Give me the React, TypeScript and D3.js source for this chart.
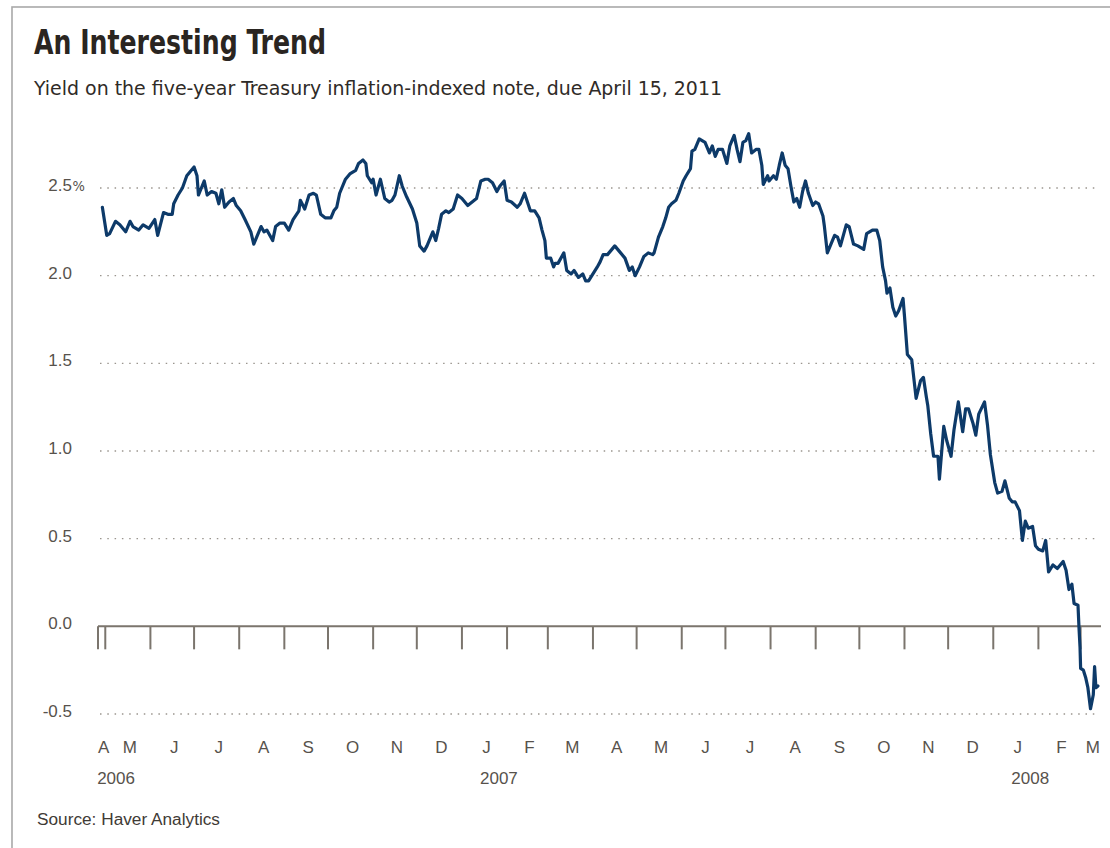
import React from "react";
import * as d3 from "d3";

const title = "An Interesting Trend";
const subtitle = "Yield on the five-year Treasury inflation-indexed note, due April 15, 2011";
const source = "Source: Haver Analytics";

const yTicks = [2.5, 2.0, 1.5, 1.0, 0.5, 0.0, -0.5];
const yTickLabels = ["2.5", "2.0", "1.5", "1.0", "0.5", "0.0", "-0.5"];
const monthLetters = ["J", "F", "M", "A", "M", "J", "J", "A", "S", "O", "N", "D"];

const domainStart = "2006-04-26";
const domainEnd = "2008-03-15";
const baseDate = "2006-05-01";

// days after May 1, 2006
const dayOffsets = [
  -2, 1, 3, 7, 10, 14, 17, 19, 23, 26, 30, 34, 36, 40, 43, 46, 47, 50, 53, 56,
  58, 61, 63, 64, 66, 68, 70, 73, 76, 78, 80, 82, 85, 88, 90, 93, 96, 100, 102, 104,
  107, 109, 111, 113, 115, 117, 120, 123, 126, 129, 133, 134, 137, 140, 143, 145, 148, 151, 155, 157,
  159, 161, 165, 168, 172, 174, 177, 179, 180, 183, 184, 186, 189, 192, 195, 197, 199, 202, 204, 207,
  211, 214, 216, 219, 221, 225, 227, 229, 231, 234, 236, 239, 242, 245, 249, 252, 255, 258, 261, 263,
  266, 269, 271, 274, 276, 279, 283, 285, 288, 290, 292, 295, 298, 300, 302, 303, 306, 308, 309, 311,
  315, 317, 320, 322, 325, 328, 330, 332, 335, 338, 340, 342, 345, 348, 350, 353, 357, 360, 362, 364,
  367, 370, 373, 376, 377, 380, 383, 385, 387, 389, 392, 394, 397, 399, 402, 403, 405, 408, 410, 412,
  415, 417, 419, 421, 424, 427, 429, 432, 434, 436, 438, 440, 442, 444, 447, 449, 451, 452, 455, 456,
  459, 461, 463, 465, 467, 469, 471, 473, 475, 477, 479, 481, 483, 486, 488, 490, 493, 494, 496, 498,
  501, 503, 505, 509, 511, 514, 517, 519, 521, 523, 527, 530, 532, 534, 536, 537, 539, 541, 543, 545,
  548, 549, 551, 554, 557, 560, 562, 564, 565, 567, 569, 572, 573, 576, 578, 581, 583, 586, 589, 591,
  593, 596, 598, 600, 604, 606, 608, 611, 613, 616, 618, 621, 623, 625, 628, 630, 632, 634, 637, 639,
  641, 644, 646, 648, 651, 654, 658, 660, 662, 664, 665.5, 668.2, 668.9, 669.6, 670.0, 671.9, 673.4, 675.0, 676.8, 678.7,
  679.6, 680.5, 681.9,
];

const yields = [
  2.39, 2.23, 2.24, 2.31, 2.29, 2.25, 2.31, 2.28, 2.26, 2.29, 2.27, 2.32, 2.23, 2.36, 2.35, 2.35, 2.41, 2.46, 2.50, 2.57,
  2.59, 2.62, 2.57, 2.46, 2.50, 2.54, 2.46, 2.48, 2.47, 2.41, 2.49, 2.39, 2.42, 2.44, 2.40, 2.37, 2.32, 2.25, 2.18, 2.22,
  2.28, 2.25, 2.26, 2.23, 2.20, 2.28, 2.30, 2.30, 2.26, 2.32, 2.37, 2.43, 2.38, 2.46, 2.47, 2.46, 2.35, 2.33, 2.33, 2.37,
  2.39, 2.47, 2.55, 2.58, 2.60, 2.64, 2.66, 2.64, 2.57, 2.53, 2.55, 2.46, 2.55, 2.44, 2.42, 2.43, 2.46, 2.57, 2.51, 2.45,
  2.38, 2.30, 2.17, 2.14, 2.17, 2.25, 2.20, 2.27, 2.35, 2.37, 2.36, 2.38, 2.46, 2.44, 2.40, 2.42, 2.44, 2.54, 2.55, 2.55,
  2.53, 2.48, 2.51, 2.54, 2.43, 2.42, 2.39, 2.41, 2.47, 2.42, 2.37, 2.37, 2.33, 2.26, 2.20, 2.10, 2.10, 2.05, 2.07, 2.07,
  2.13, 2.03, 2.01, 2.03, 1.99, 2.01, 1.97, 1.97, 2.01, 2.05, 2.08, 2.12, 2.12, 2.15, 2.17, 2.14, 2.10, 2.03, 2.05, 2.00,
  2.05, 2.11, 2.13, 2.12, 2.13, 2.22, 2.28, 2.33, 2.39, 2.41, 2.43, 2.47, 2.54, 2.57, 2.61, 2.71, 2.72, 2.78, 2.77, 2.76,
  2.70, 2.74, 2.68, 2.72, 2.72, 2.64, 2.74, 2.80, 2.72, 2.65, 2.76, 2.77, 2.81, 2.70, 2.72, 2.72, 2.63, 2.52, 2.57, 2.54,
  2.57, 2.55, 2.63, 2.70, 2.63, 2.61, 2.51, 2.42, 2.44, 2.39, 2.48, 2.54, 2.47, 2.40, 2.42, 2.41, 2.34, 2.28, 2.13, 2.17,
  2.23, 2.22, 2.17, 2.29, 2.28, 2.18, 2.17, 2.16, 2.15, 2.24, 2.26, 2.26, 2.20, 2.05, 1.97, 1.90, 1.93, 1.82, 1.77, 1.80,
  1.87, 1.77, 1.55, 1.52, 1.30, 1.40, 1.42, 1.31, 1.26, 1.10, 0.97, 0.97, 0.84, 1.14, 1.06, 0.97, 1.12, 1.28, 1.11, 1.24,
  1.24, 1.16, 1.09, 1.21, 1.28, 1.15, 0.98, 0.82, 0.76, 0.77, 0.83, 0.73, 0.71, 0.71, 0.66, 0.49, 0.60, 0.56, 0.57, 0.46,
  0.44, 0.43, 0.49, 0.31, 0.35, 0.33, 0.37, 0.32, 0.21, 0.24, 0.13, 0.12, -0.01, -0.12, -0.24, -0.25, -0.29, -0.35, -0.47, -0.39,
  -0.23, -0.35, -0.34,
];

const W = 1110;
const H = 848;
const FONT = "'Liberation Sans', Arial, sans-serif";
const NARROW = "'Liberation Sans Narrow', 'DejaVu Sans Condensed', 'Liberation Sans', sans-serif";

export default function App() {
  const d0 = new Date(domainStart);
  const d1 = new Date(domainEnd);
  const base = new Date(baseDate);
  const x = d3.scaleUtc().domain([d0, d1]).range([98, 1101]);
  const y = d3.scaleLinear().domain([-0.5, 2.5]).range([714, 188]);

  const data = dayOffsets.map((d, i) => ({
    date: new Date(base.getTime() + d * 86400000),
    v: yields[i],
  }));

  const line = d3
    .line<{ date: Date; v: number }>()
    .x((d) => x(d.date))
    .y((d) => y(d.v));

  const monthTicks = [d0, ...d3.utcMonth.range(d3.utcMonth.ceil(d0), d1)];
  const months = d3.utcMonth.range(d3.utcMonth.floor(d0), d1).map((m) => {
    const s = m < d0 ? d0 : m;
    const nx = d3.utcMonth.offset(m, 1);
    const e = nx > d1 ? d1 : nx;
    const cx = (x(s) + x(e)) / 2 + 2;
    return { m, cx, letter: monthLetters[m.getUTCMonth()] };
  });
  const yearMarks = months.filter((mo, i) => i === 0 || mo.m.getUTCMonth() === 0);

  const y0 = y(0);

  return (
    <svg
      width={W}
      height={H}
      style={{ position: "absolute", left: 0, top: 0, display: "block", background: "#fff" }}
    >
      <rect x={12} y={7} width={W} height={H} fill="none" stroke="#a9a9a9" strokeWidth={1.6} />
      <text
        x={34}
        y={54}
        fontFamily={NARROW}
        fontWeight="bold"
        fontSize={34}
        fill="#2a2521"
        textLength={292}
        lengthAdjust="spacingAndGlyphs"
      >
        {title}
      </text>
      <text
        x={34}
        y={95}
        fontFamily={NARROW}
        fontSize={20}
        fill="#2f2b27"
        textLength={688}
        lengthAdjust="spacingAndGlyphs"
      >
        {subtitle}
      </text>

      {/* gridlines */}
      {yTicks
        .filter((t) => t !== 0)
        .map((t) => (
          <line
            key={"g" + t}
            x1={100}
            x2={1100}
            y1={y(t)}
            y2={y(t)}
            stroke="#9a958e"
            strokeWidth={1.4}
            strokeDasharray="1.5 5.8"
          />
        ))}

      {/* y labels */}
      {yTicks.map((t, i) => (
        <text
          key={"yl" + t}
          x={72}
          y={y(t) + 3}
          textAnchor="end"
          fontFamily={FONT}
          fontSize={17}
          fill="#57524c"
        >
          {yTickLabels[i]}
        </text>
      ))}
      <text x={72.5} y={y(2.5) + 3} fontFamily={NARROW} fontSize={14.5} fill="#57524c">
        %
      </text>

      {/* zero line and month ticks */}
      <line x1={98} x2={1101} y1={y0} y2={y0} stroke="#7b756d" strokeWidth={2} />
      {monthTicks.map((d, i) => (
        <line
          key={"t" + i}
          x1={x(d)}
          x2={x(d)}
          y1={y0}
          y2={y0 + 23}
          stroke="#7b756d"
          strokeWidth={2}
        />
      ))}

      {/* month labels */}
      {months.map((mo, i) => (
        <text
          key={"m" + i}
          x={mo.cx}
          y={753}
          textAnchor="middle"
          fontFamily={FONT}
          fontSize={17}
          fill="#57524c"
        >
          {mo.letter}
        </text>
      ))}
      {yearMarks.map((mo, i) => (
        <text
          key={"yr" + i}
          x={mo.cx - 6.5}
          y={784}
          fontFamily={FONT}
          fontSize={17}
          fill="#57524c"
        >
          {String(mo.m.getUTCFullYear())}
        </text>
      ))}

      {/* series */}
      <path
        d={line(data) || ""}
        fill="none"
        stroke="#0d3a69"
        strokeWidth={3.2}
        strokeLinejoin="round"
        strokeLinecap="round"
      />

      <text
        x={37}
        y={825}
        fontFamily={FONT}
        fontSize={16}
        fill="#3f3b36"
        textLength={183}
        lengthAdjust="spacingAndGlyphs"
      >
        {source}
      </text>
    </svg>
  );
}
